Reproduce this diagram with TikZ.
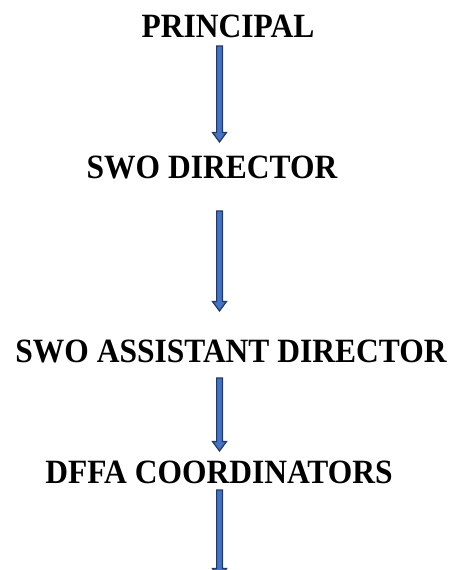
\documentclass[tikz,border=0pt]{standalone}
\usepackage{fontspec}
\setmainfont{Liberation Serif}
\usetikzlibrary{calc}
\definecolor{arrfill}{HTML}{4472C4}
\definecolor{arrline}{HTML}{203864}
\tikzset{
  title/.style={anchor=base, inner sep=0pt, font=\fontsize{31.5}{36}\selectfont\bfseries, text=black},
  blockarrow/.style={fill=arrfill, draw=arrline, line width=1.2pt, line join=miter}
}
\newcommand\blkarrow[2]{%
  \draw[blockarrow] ($(#1)+(-2.9,0)$) -- ($(#2)+(-2.9,-9.5)$) -- ($(#2)+(-7,-9.5)$) -- (#2)
    -- ($(#2)+(7,-9.5)$) -- ($(#2)+(2.9,-9.5)$) -- ($(#1)+(2.9,0)$) -- cycle;}
\begin{document}
\begin{tikzpicture}[x=1pt,y=-1pt]
\useasboundingbox (0,0) rectangle (449,570);
\clip (0,0) rectangle (449,570);
\node[title] (p) at (228,37) {\scalebox{1}[1.08]{PRINCIPAL}};
\node[title] (d) at (212,178) {\scalebox{1}[1.08]{SWO DIRECTOR}};
\node[title] (ad) at (231,362) {\scalebox{1}[1.08]{SWO ASSISTANT DIRECTOR}};
\node[title] (c) at (219,483) {\scalebox{1}[1.08]{DFFA COORDINATORS}};
\coordinate (a1s) at (219.5,46);  \coordinate (a1e) at (219.5,142);
\coordinate (a2s) at (219.5,211); \coordinate (a2e) at (219.5,311);
\coordinate (a3s) at (219.5,378); \coordinate (a3e) at (219.5,451);
\coordinate (a4s) at (219.5,490); \coordinate (a4e) at (219.5,578);
\blkarrow{a1s}{a1e}
\blkarrow{a2s}{a2e}
\blkarrow{a3s}{a3e}
\blkarrow{a4s}{a4e}
\end{tikzpicture}
\end{document}
